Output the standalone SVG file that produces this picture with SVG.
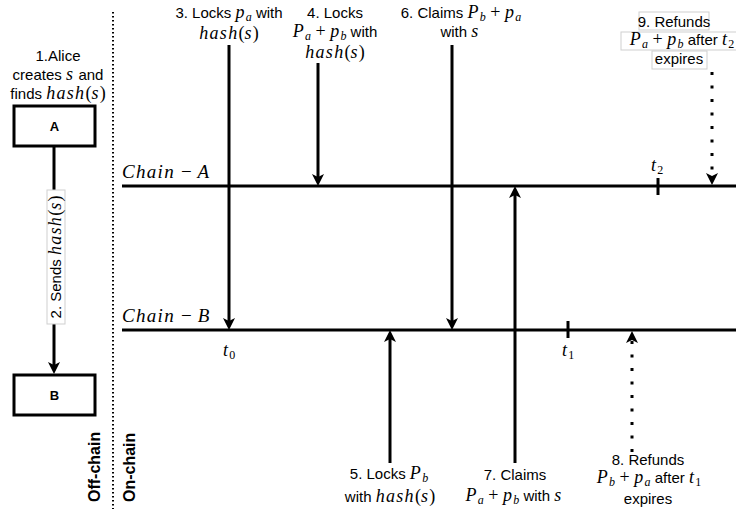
<svg xmlns="http://www.w3.org/2000/svg" width="736" height="509" viewBox="0 0 736 509">
<defs>
<style>
.t{font-family:"Liberation Sans",Arial,sans-serif;font-size:15px;fill:#000}
.b{font-family:"Liberation Sans",Arial,sans-serif;font-size:13px;font-weight:bold;fill:#000}
.bv{font-family:"Liberation Sans",Arial,sans-serif;font-size:16px;font-weight:bold;fill:#000}
.m{font-family:"Liberation Serif","Times New Roman",serif;font-style:italic;font-size:18px;letter-spacing:1.3px}
.r{font-family:"Liberation Serif","Times New Roman",serif;font-style:normal;font-size:18px;letter-spacing:0}
.s{font-family:"Liberation Serif","Times New Roman",serif;font-style:italic;font-size:12px;letter-spacing:0}
.sn{font-family:"Liberation Serif","Times New Roman",serif;font-style:normal;font-size:12px;letter-spacing:0}
.ln{stroke:#000;stroke-width:3;fill:none}
.ar{stroke:#000;stroke-width:3;fill:none;marker-end:url(#ah)}
.dar{stroke:#000;stroke-width:3;fill:none;stroke-dasharray:3 10.5;marker-end:url(#ah)}
.box{fill:#fff;stroke:#000;stroke-width:3}
.lbg{fill:#fff;stroke:#cfcfcf;stroke-width:1}
</style>
<marker id="ah" viewBox="0 0 12 12" refX="3" refY="6" markerWidth="12" markerHeight="12" markerUnits="userSpaceOnUse" orient="auto">
<path d="M0,0 L12,6 L0,12 L3,6 Z" fill="#000"/>
</marker>
</defs>
<rect width="736" height="509" fill="#fff"/>

<g id="separator">
<line x1="113" y1="12" x2="113" y2="509" stroke="#000" stroke-width="2" stroke-dasharray="1.5 2.5"/>
<text class="bv" transform="translate(100,502) rotate(-90)">Off-chain</text>
<text class="bv" transform="translate(135,502) rotate(-90)">On-chain</text>
</g>

<g id="chain-a">
<line class="ln" x1="122" y1="186" x2="736" y2="186"/>
<text class="m" x="122" y="178" style="font-size:19px">Chain <tspan class="r" style="font-size:19px">−</tspan> A</text>
<line class="ln" x1="658" y1="178" x2="658" y2="195"/>
<text class="m" x="651" y="171">t<tspan class="sn" dy="3">2</tspan></text>
</g>

<g id="chain-b">
<line class="ln" x1="122" y1="330" x2="736" y2="330"/>
<text class="m" x="122" y="322" style="font-size:19px">Chain <tspan class="r" style="font-size:19px">−</tspan> B</text>
<line class="ln" x1="568" y1="321" x2="568" y2="338"/>
<text class="m" x="562" y="356">t<tspan class="sn" dy="3">1</tspan></text>
<text class="m" x="223" y="356">t<tspan class="sn" dy="3">0</tspan></text>
</g>

<g id="node-a">
<rect class="box" x="14" y="106" width="81" height="40"/>
<text class="b" x="54.5" y="131" text-anchor="middle">A</text>
<text class="t" text-anchor="middle"><tspan x="58" y="61">1.Alice</tspan><tspan x="58" y="80">creates <tspan class="m">s</tspan> and</tspan><tspan x="58" y="99">finds <tspan class="m">hash</tspan><tspan class="r">(</tspan><tspan class="m">s</tspan><tspan class="r">)</tspan></tspan></text>
</g>

<g id="node-b">
<rect class="box" x="14" y="375" width="81" height="40"/>
<text class="b" x="54.5" y="400" text-anchor="middle">B</text>
</g>

<g id="connectors">
<line class="ar" x1="54" y1="146" x2="54" y2="365"/>
<line class="ar" x1="229" y1="45" x2="229" y2="321"/>
<line class="ar" x1="318" y1="63" x2="318" y2="177"/>
<line class="ar" x1="452" y1="45" x2="452" y2="321"/>
<line class="ar" x1="390" y1="463" x2="390" y2="339"/>
<line class="ar" x1="515" y1="463" x2="515" y2="195"/>
<line class="dar" x1="632" y1="452" x2="632" y2="340"/>
<line class="dar" x1="712" y1="72" x2="712" y2="176"/>
</g>

<g id="label-2">
<rect class="lbg" x="47" y="190" width="18" height="134"/>
<text class="t" transform="translate(61,257) rotate(-90)" text-anchor="middle">2. Sends <tspan class="m">hash</tspan><tspan class="r">(</tspan><tspan class="m">s</tspan><tspan class="r">)</tspan></text>
</g>

<g id="label-3">
<text class="t" text-anchor="middle"><tspan x="229" y="18">3. Locks <tspan class="m">p</tspan><tspan class="s" dy="3">a</tspan><tspan dy="-3"> with</tspan></tspan><tspan x="229" y="39" class="m">hash<tspan class="r">(</tspan>s<tspan class="r">)</tspan></tspan></text>
</g>

<g id="label-4">
<text class="t" text-anchor="middle"><tspan x="335" y="18">4. Locks</tspan><tspan x="335" y="37"><tspan class="m">P</tspan><tspan class="s" dy="3">a</tspan><tspan class="r" dy="-3"> + </tspan><tspan class="m">p</tspan><tspan class="s" dy="3">b</tspan><tspan dy="-3"> with</tspan></tspan><tspan x="335" y="58" class="m">hash<tspan class="r">(</tspan>s<tspan class="r">)</tspan></tspan></text>
</g>

<g id="label-6">
<text class="t" text-anchor="middle"><tspan x="461" y="18">6. Claims <tspan class="m">P</tspan><tspan class="s" dy="3">b</tspan><tspan class="r" dy="-3"> + </tspan><tspan class="m">p</tspan><tspan class="s" dy="3">a</tspan></tspan><tspan x="460" y="37">with <tspan class="m">s</tspan></tspan></text>
</g>

<g id="label-9">
<rect class="lbg" x="639" y="12" width="70" height="18"/>
<rect class="lbg" x="621" y="32" width="122" height="18"/>
<rect class="lbg" x="652" y="51" width="55" height="18"/>
<text class="t" text-anchor="middle"><tspan x="674" y="27">9. Refunds</tspan><tspan x="682" y="45"><tspan class="m">P</tspan><tspan class="s" dy="3">a</tspan><tspan class="r" dy="-3"> + </tspan><tspan class="m">p</tspan><tspan class="s" dy="3">b</tspan><tspan dy="-3"> after </tspan><tspan class="m">t</tspan><tspan class="sn" dy="3">2</tspan></tspan><tspan x="679" y="64">expires</tspan></text>
</g>

<g id="label-5">
<text class="t" text-anchor="middle"><tspan x="389" y="479">5. Locks <tspan class="m">P</tspan><tspan class="s" dy="3">b</tspan></tspan><tspan x="390" y="502">with <tspan class="m">hash</tspan><tspan class="r">(</tspan><tspan class="m">s</tspan><tspan class="r">)</tspan></tspan></text>
</g>

<g id="label-7">
<text class="t" text-anchor="middle"><tspan x="515" y="480">7. Claims</tspan><tspan x="514" y="501"><tspan class="m">P</tspan><tspan class="s" dy="3">a</tspan><tspan class="r" dy="-3"> + </tspan><tspan class="m">p</tspan><tspan class="s" dy="3">b</tspan><tspan dy="-3"> with </tspan><tspan class="m">s</tspan></tspan></text>
</g>

<g id="label-8">
<text class="t" text-anchor="middle"><tspan x="648" y="465">8. Refunds</tspan><tspan x="649" y="483"><tspan class="m">P</tspan><tspan class="s" dy="3">b</tspan><tspan class="r" dy="-3"> + </tspan><tspan class="m">p</tspan><tspan class="s" dy="3">a</tspan><tspan dy="-3"> after </tspan><tspan class="m">t</tspan><tspan class="sn" dy="3">1</tspan></tspan><tspan x="648" y="504">expires</tspan></text>
</g>
</svg>
